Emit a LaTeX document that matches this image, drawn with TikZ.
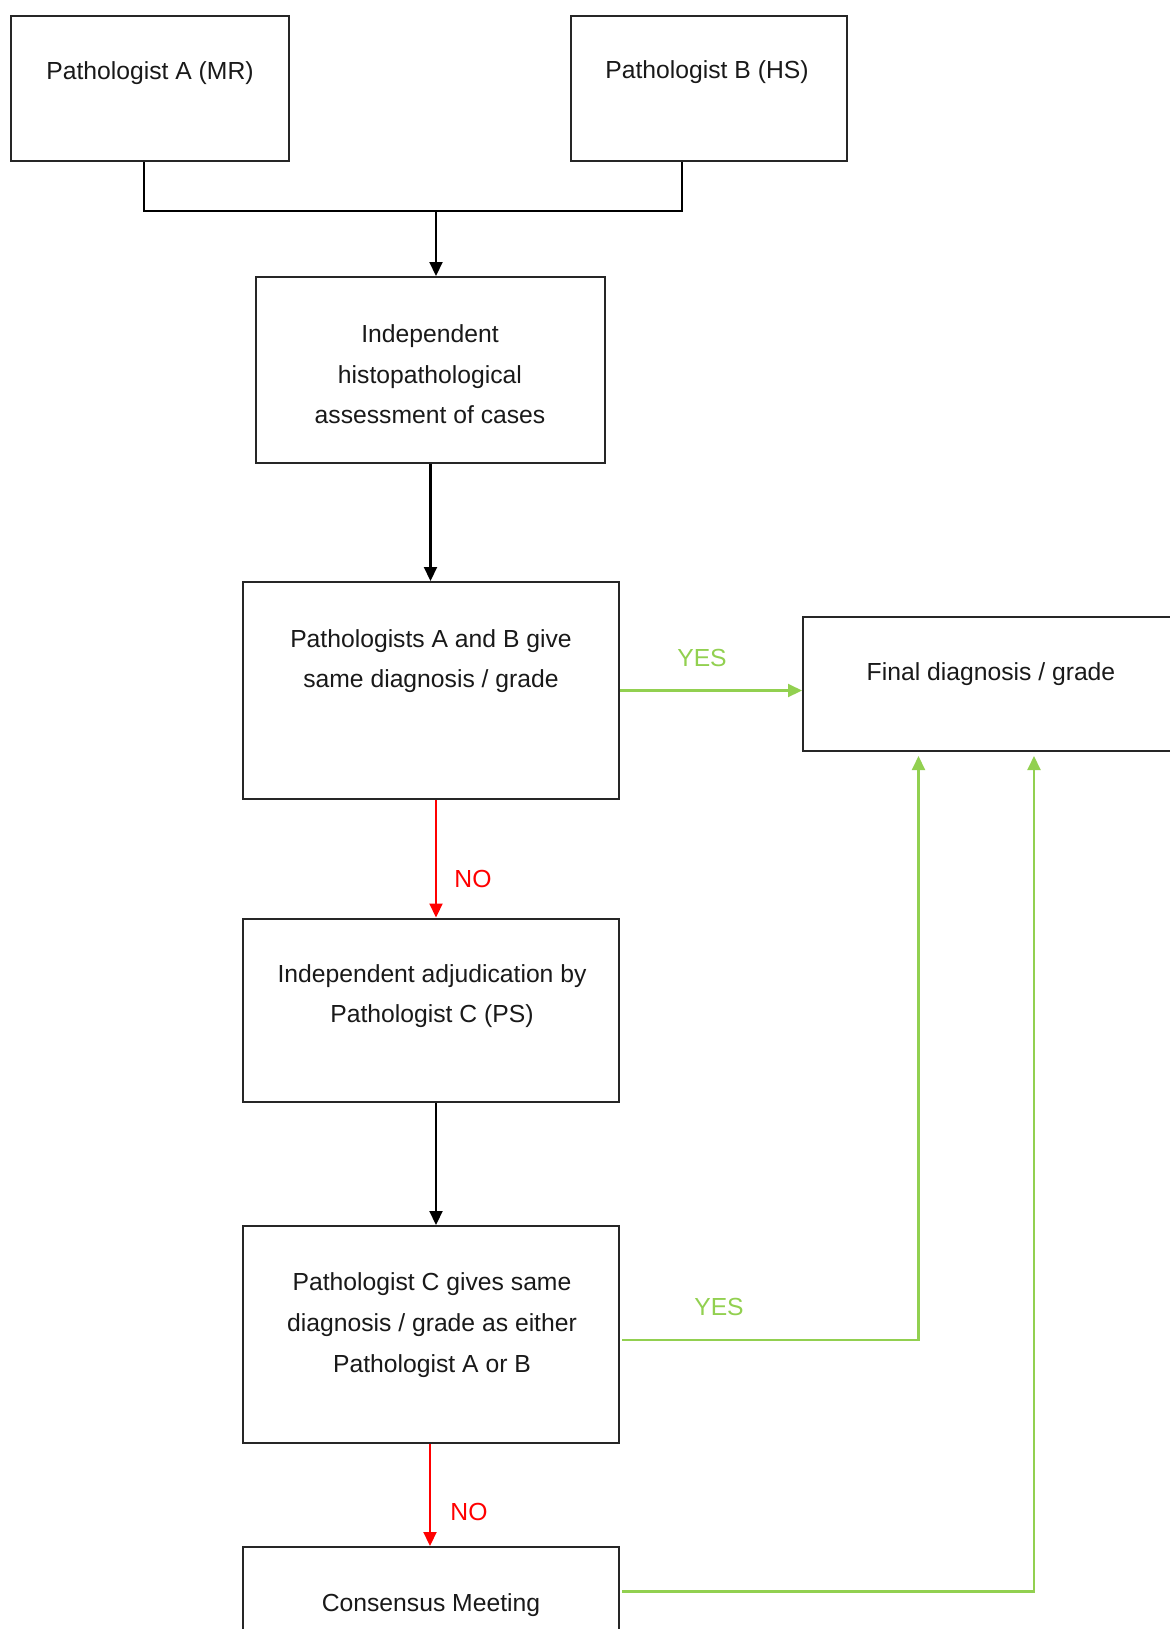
\documentclass[tikz,border=0pt]{standalone}
\usepackage{fontspec}
\setmainfont{Liberation Sans}
\usetikzlibrary{arrows.meta}
\definecolor{yesgreen}{RGB}{146,208,80}
\definecolor{nored}{RGB}{255,0,0}
\begin{document}
\begin{tikzpicture}[x=0.5pt,y=-0.5pt,
  box/.style={draw=black!85,line width=1pt,inner sep=0pt,rectangle},
  txt/.style={align=center,font=\fontsize{12.35}{20.3}\selectfont,inner sep=0pt,text=black!90},
  lbl/.style={font=\fontsize{12.35}{14}\selectfont,inner sep=0pt},
  conn/.style={line width=1.05pt,-{Triangle[length=7pt,width=6.5pt]}},
  plain/.style={line width=1.05pt}
]
\useasboundingbox (0,0) rectangle (1169,1629);

% boxes
\node[box,minimum width=138.75pt,minimum height=72.5pt] (A) at (150,88.5) {};
\node[box,minimum width=137.75pt,minimum height=72.5pt] (B) at (709,88.5) {};
\node[box,minimum width=174.5pt,minimum height=93pt] (Ind) at (430.5,370) {};
\node[box,minimum width=188pt,minimum height=108.5pt] (PAB) at (431,690.5) {};
\node[box,minimum width=188.5pt,minimum height=67pt] (Fin) at (991.5,684) {};
\node[box,minimum width=188pt,minimum height=91.5pt] (Adj) at (431,1010) {};
\node[box,minimum width=188pt,minimum height=108.5pt] (PC) at (431,1334.5) {};
\node[box,minimum width=188pt,minimum height=46.5pt] (Con) at (431,1593.5) {};

% texts
\node[txt] (tA) at (150,73) {Pathologist A (MR)};
\node[txt] (tB) at (707,72) {Pathologist B (HS)};
\node[txt] (tInd) at (430,374.5) {Independent\\histopathological\\assessment of cases};
\node[txt] (tPAB) at (431,661) {Pathologists A and B give\\same diagnosis / grade};
\node[txt] (tFin) at (991,674) {Final diagnosis / grade};
\node[txt] (tAdj) at (432,996) {Independent adjudication by\\Pathologist C (PS)};
\node[txt] (tPC) at (432,1325) {Pathologist C gives same\\diagnosis / grade as either\\Pathologist A or B};
\node[txt] (tCon) at (431,1605) {Consensus Meeting};

% top merge
\coordinate (J) at (436,211);
\draw[plain] ([xshift=-3pt]A.south) |- (J) -| ([xshift=-13.5pt]B.south);
\draw[conn] (J) -- (J |- Ind.north);
\draw[conn] (Ind.south) -- (Ind.south |- PAB.north);

% yes / no
\draw[conn,yesgreen] (PAB.east) -- (PAB.east -| Fin.west);
\node[lbl,text=yesgreen] (y1) at (702,658) {YES};
\draw[conn,nored] ([xshift=2.5pt]PAB.south) -- ([xshift=2.5pt]PAB.south |- Adj.north);
\node[lbl,text=nored] (n1) at (473,879) {NO};
\draw[conn] ([xshift=2.5pt]Adj.south) -- ([xshift=2.5pt]Adj.south |- PC.north);

\draw[conn,yesgreen] ([xshift=1pt,yshift=-2.75pt]PC.east) -| ([xshift=-36.5pt,yshift=-2pt]Fin.south);
\node[lbl,text=yesgreen] (y2) at (719,1307) {YES};
\draw[conn,nored] ([xshift=-0.5pt]PC.south) -- ([xshift=-0.5pt]PC.south |- Con.north);
\node[lbl,text=nored] (n2) at (469,1512) {NO};

\draw[conn,yesgreen] ([xshift=1pt,yshift=1pt]Con.east) -| ([xshift=21.25pt,yshift=-2pt]Fin.south);
\end{tikzpicture}
\end{document}
